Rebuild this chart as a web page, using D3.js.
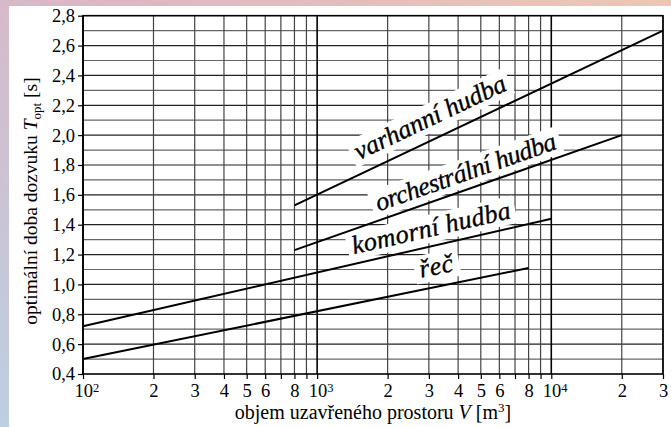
<!DOCTYPE html>
<html>
<head>
<meta charset="utf-8">
<script src="https://cdn.jsdelivr.net/npm/d3@7"></script>
<style>
  body { margin: 0; }
  svg text { font-family: "Liberation Serif", "Times New Roman", serif !important; fill: #000; }
</style>
</head>
<body>
<svg id="chart" width="671" height="427"></svg>
<script>
// values
var series = ['řeč', 'komorní hudba', 'orchestrální hudba', 'varhanní hudba'];
var seriesV = [[100, 8000], [100, 10000], [800, 20000], [800, 30000]];
var seriesT = [[0.50, 1.11], [0.72, 1.44], [1.23, 2.00], [1.53, 2.70]];

var yTicks = [0.4, 0.6, 0.8, 1.0, 1.2, 1.4, 1.6, 1.8, 2.0, 2.2, 2.4, 2.6, 2.8];
var yTickLabels = ['0,4', '0,6', '0,8', '1,0', '1,2', '1,4', '1,6', '1,8', '2,0', '2,2', '2,4', '2,6', '2,8'];
var yGrid = [0.5, 0.6, 0.7, 0.8, 0.9, 1.0, 1.1, 1.2, 1.3, 1.4, 1.5, 1.6, 1.7, 1.8, 1.9, 2.0, 2.1, 2.2, 2.3, 2.4, 2.5, 2.6, 2.7];

var xTicks = [100, 200, 300, 400, 500, 600, 700, 800, 900,
  1000, 2000, 3000, 4000, 5000, 6000, 7000, 8000, 9000,
  10000, 20000, 30000];
var xTickLabels = ['10^2', '2', '3', '4', '5', '6', '', '8', '',
  '10^3', '2', '3', '4', '5', '6', '', '8', '',
  '10^4', '2', '3'];

// where each label sits along its line (volume at label centre, px above line)
var labelV = [3350, 3190, 4550, 3320];
var labelOff = [12, 9.5, 8.5, 13];
var labelLen = [34, 162, 190, 165];

var svg = d3.select('#chart');

var defs = svg.append('defs');
var grad = defs.append('linearGradient').attr('id', 'bg')
  .attr('x1', '1').attr('y1', '0').attr('x2', '0').attr('y2', '1');
grad.append('stop').attr('offset', '0%').attr('stop-color', '#ecc7b4');
grad.append('stop').attr('offset', '45%').attr('stop-color', '#d9b8c6');
grad.append('stop').attr('offset', '100%').attr('stop-color', '#bccfe2');

svg.append('rect').attr('width', 671).attr('height', 427).attr('fill', 'url(#bg)');
svg.append('rect').attr('x', 9).attr('y', 6).attr('width', 662).attr('height', 421).attr('fill', '#fff');

var x = d3.scaleLog().domain([100, 30000]).range([83, 663]);
var y = d3.scaleLinear().domain([0.4, 2.8]).range([374, 15.7]);

// grid
svg.append('g').selectAll('line').data(yGrid).join('line')
  .attr('x1', 83).attr('x2', 663)
  .attr('y1', function (d) { return y(d); })
  .attr('y2', function (d) { return y(d); })
  .attr('stroke', function (d) { return Math.round(d * 10) % 2 == 0 ? '#222' : '#666'; })
  .attr('stroke-width', 1.2);

svg.append('g').selectAll('line').data(xTicks).join('line')
  .attr('x1', function (d) { return x(d); })
  .attr('x2', function (d) { return x(d); })
  .attr('y1', y(0.4)).attr('y2', y(2.8))
  .attr('stroke', function (d, i) { return i % 9 == 0 ? '#000' : '#444'; })
  .attr('stroke-width', function (d, i) { return i % 9 == 0 ? 1.6 : 1.2; });

// axes
var yAxis = svg.append('g').attr('transform', 'translate(83,0)')
  .call(d3.axisLeft(y).tickValues(yTicks).tickSize(5).tickPadding(3)
    .tickFormat(function (d, i) { return yTickLabels[i]; }));

var xAxis = svg.append('g').attr('transform', 'translate(0,' + y(0.4) + ')')
  .call(d3.axisBottom(x).tickValues(xTicks).tickSize(5).tickPadding(5)
    .tickFormat(function (d, i) { return xTickLabels[i]; }));

[yAxis, xAxis].forEach(function (a) {
  a.attr('font-size', 18).attr('font-family', null);
  a.select('.domain').remove();
  a.selectAll('.tick line').attr('stroke', '#000').attr('stroke-width', 1.2);
  a.selectAll('.tick text').attr('font-size', 18.5);
});

xAxis.selectAll('.tick text').each(function () {
  var t = d3.select(this);
  var s = t.text();
  if (s.indexOf('^') > 0) {
    var p = s.split('^');
    t.text(null).attr('text-anchor', 'start').attr('x', -9);
    t.append('tspan').text(p[0]);
    t.append('tspan').attr('dy', '-0.45em').attr('font-size', 12.5).text(p[1]);
  }
});

// plot border
svg.append('rect').attr('x', 83).attr('y', y(2.8))
  .attr('width', 663 - 83).attr('height', y(0.4) - y(2.8))
  .attr('fill', 'none').attr('stroke', '#000').attr('stroke-width', 1.6);

// labels with white backing, then lines
var labG = svg.append('g');
var lineG = svg.append('g');

series.forEach(function (name, i) {
  var x0 = x(seriesV[i][0]), y0 = y(seriesT[i][0]);
  var x1 = x(seriesV[i][1]), y1 = y(seriesT[i][1]);
  var ang = Math.atan2(y1 - y0, x1 - x0);
  var lx = x(labelV[i]);
  var ly = y0 + (lx - x0) * (y1 - y0) / (x1 - x0);
  var cx = lx + labelOff[i] * Math.sin(ang);
  var cy = ly - labelOff[i] * Math.cos(ang);

  var g = labG.append('g')
    .attr('transform', 'translate(' + cx + ',' + cy + ') rotate(' + (ang * 180 / Math.PI) + ')');
  var back = g.append('rect').attr('fill', '#fff');
  var txt = g.append('text')
    .attr('text-anchor', 'middle')
    .attr('font-style', 'italic')
    .attr('font-size', 26)
    .attr('stroke', '#000').attr('stroke-width', 0.35)
    .attr('textLength', labelLen[i])
    .attr('lengthAdjust', 'spacing')
    .text(name);
  var b = txt.node().getBBox();
  back.attr('x', b.x - 5).attr('y', b.y + 1).attr('width', b.width + 10).attr('height', b.height - 1);

  lineG.append('path')
    .datum(d3.zip(seriesV[i], seriesT[i]))
    .attr('d', d3.line().x(function (d) { return x(d[0]); }).y(function (d) { return y(d[1]); }))
    .attr('fill', 'none').attr('stroke', '#000').attr('stroke-width', 2);
});

// axis titles
var xt = svg.append('text').attr('x', 373).attr('y', 419)
  .attr('text-anchor', 'middle').attr('font-size', 20);
xt.append('tspan').text('objem uzavřeného prostoru ');
xt.append('tspan').attr('font-style', 'italic').text('V');
xt.append('tspan').text(' [m');
xt.append('tspan').attr('dy', -7).attr('font-size', 13).text('3');
xt.append('tspan').attr('dy', 7).text(']');

var yt = svg.append('text').attr('transform', 'translate(37,201) rotate(-90)')
  .attr('text-anchor', 'middle').attr('font-size', 19.5);
yt.append('tspan').text('optimální doba dozvuku ');
yt.append('tspan').attr('font-style', 'italic').text('T');
yt.append('tspan').attr('dy', 4).attr('font-size', 13).text('opt');
yt.append('tspan').attr('dy', -4).text(' [s]');
</script>
</body>
</html>
